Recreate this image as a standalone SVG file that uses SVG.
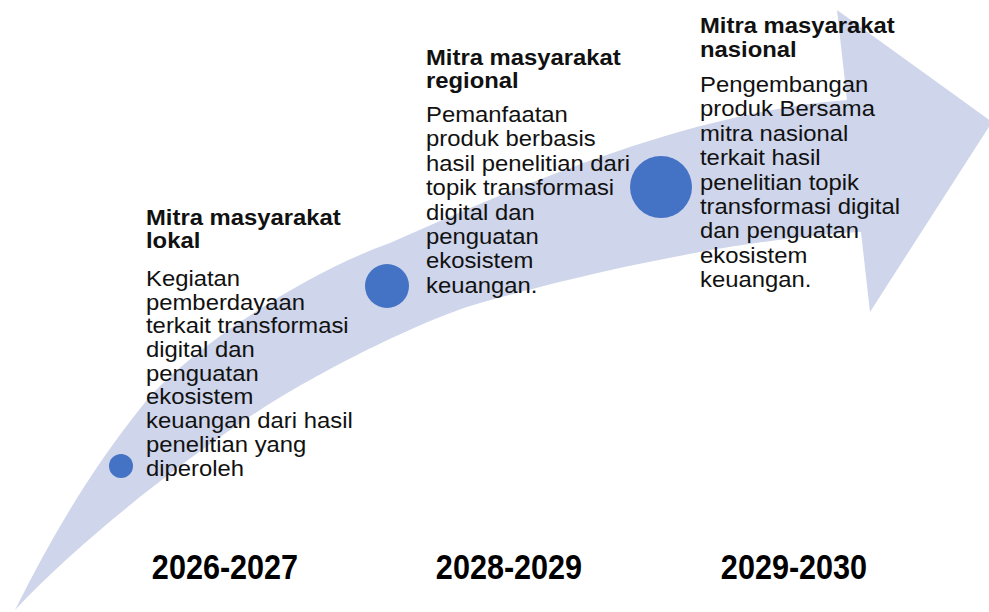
<svg xmlns="http://www.w3.org/2000/svg" width="989" height="612" viewBox="0 0 989 612">
<style>
.band{fill:#CFD5EA;stroke:none}
.dot{fill:#4472C4}
.h{font-family:"Liberation Sans",Arial,sans-serif;font-weight:bold;font-size:22.5px;fill:#111}
.b{font-family:"Liberation Sans",Arial,sans-serif;font-size:22.5px;fill:#111}
.yr{font-family:"Liberation Sans",Arial,sans-serif;font-weight:bold;font-size:36px;fill:#000;text-anchor:middle}
</style>
<rect width="989" height="612" fill="#fff"/>
<g id="arrow">
<path class="band" d="M15,610 C50,540 90,470 147,400 C190,350 300,275 390,243 C520,185 690,112 847,100 L837,10 L992,122 L870,312 L861,232 C780,236 640,258 480,303 C430,317 330,365 260,410 C200,449 90,530 15,610 Z"/>
</g>
<g id="connectors"></g>
<g id="dot1"><circle class="dot" cx="121" cy="466" r="12"/></g>
<g id="dot2"><circle class="dot" cx="387" cy="286" r="22"/></g>
<g id="dot3"><circle class="dot" cx="661" cy="187" r="31"/></g>
<g id="block1" transform="translate(146,0) scale(1.06,1)">
<text class="h"><tspan x="0" y="225">Mitra masyarakat</tspan><tspan x="0" y="248">lokal</tspan></text>
<text class="b"><tspan x="0" y="286">Kegiatan</tspan><tspan x="0" y="309.7">pemberdayaan</tspan><tspan x="0" y="333.4">terkait transformasi</tspan><tspan x="0" y="357.1">digital dan</tspan><tspan x="0" y="380.8">penguatan</tspan><tspan x="0" y="404.5">ekosistem</tspan><tspan x="0" y="428.2">keuangan dari hasil</tspan><tspan x="0" y="451.9">penelitian yang</tspan><tspan x="0" y="475.6">diperoleh</tspan></text>
</g>
<g id="block2" transform="translate(426,0) scale(1.06,1)">
<text class="h"><tspan x="0" y="65">Mitra masyarakat</tspan><tspan x="0" y="88">regional</tspan></text>
<text class="b"><tspan x="0" y="122">Pemanfaatan</tspan><tspan x="0" y="146.4">produk berbasis</tspan><tspan x="0" y="170.8">hasil penelitian dari</tspan><tspan x="0" y="195.2">topik transformasi</tspan><tspan x="0" y="219.6">digital dan</tspan><tspan x="0" y="244">penguatan</tspan><tspan x="0" y="268.4">ekosistem</tspan><tspan x="0" y="292.8">keuangan.</tspan></text>
</g>
<g id="block3" transform="translate(700,0) scale(1.06,1)">
<text class="h"><tspan x="0" y="33">Mitra masyarakat</tspan><tspan x="0" y="57">nasional</tspan></text>
<text class="b"><tspan x="0" y="92">Pengembangan</tspan><tspan x="0" y="116.4">produk Bersama</tspan><tspan x="0" y="140.8">mitra nasional</tspan><tspan x="0" y="165.2">terkait hasil</tspan><tspan x="0" y="189.6">penelitian topik</tspan><tspan x="0" y="214">transformasi digital</tspan><tspan x="0" y="238.4">dan penguatan</tspan><tspan x="0" y="262.8">ekosistem</tspan><tspan x="0" y="287.2">keuangan.</tspan></text>
</g>
<g id="year1" transform="translate(225,579) scale(0.85,1)"><text class="yr" x="0" y="0">2026-2027</text></g>
<g id="year2" transform="translate(509,579) scale(0.85,1)"><text class="yr" x="0" y="0">2028-2029</text></g>
<g id="year3" transform="translate(794,579) scale(0.85,1)"><text class="yr" x="0" y="0">2029-2030</text></g>
</svg>
